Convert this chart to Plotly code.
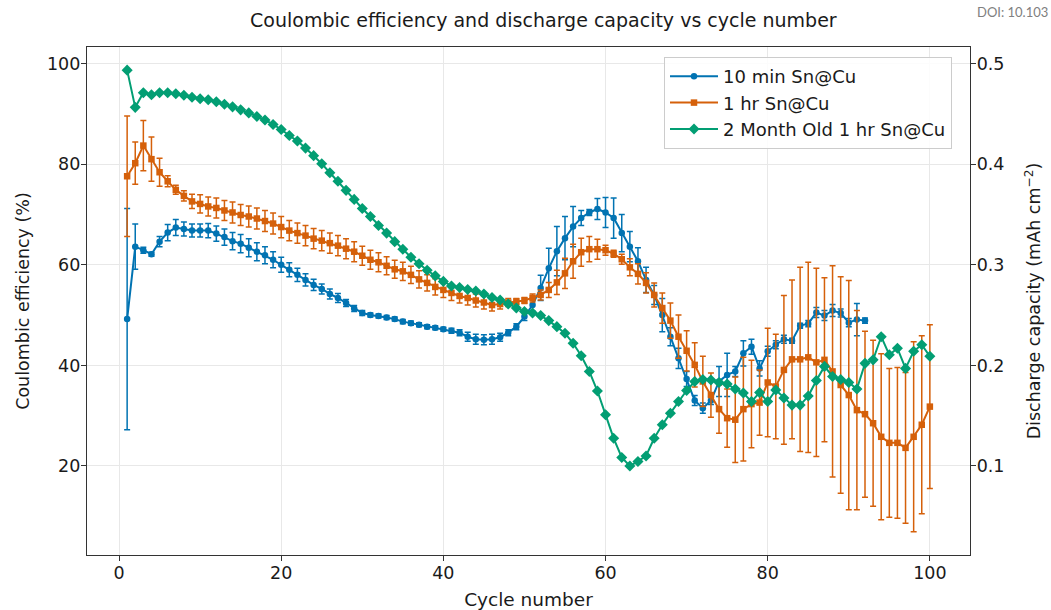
import plotly.graph_objects as go

cycles = list(range(1, 101))
cycles_blue = list(range(1, 93))

ce_10min = [49.2, 63.6, 62.9, 62.1, 64.6, 66.4, 67.4, 67.1, 66.8, 66.8,
            66.8, 66.2, 65.5, 64.7, 64.2, 63.4, 62.6, 61.9, 61.0, 60.0,
            59.0, 58.0, 57.0, 56.0, 55.2, 54.2, 53.4, 52.4, 51.3, 50.4,
            50.0, 49.8, 49.5, 49.2, 48.7, 48.4, 48.1, 47.7, 47.5, 47.2,
            46.9, 46.5, 45.7, 45.2, 45.1, 45.2, 45.6, 46.5, 47.7, 49.7,
            52.0, 55.4, 59.3, 62.7, 65.3, 67.6, 69.3, 70.4, 71.1, 70.4,
            69.3, 66.3, 63.6, 60.7, 57.0, 54.0, 50.0, 45.7, 41.4, 37.3,
            33.0, 31.5, 33.0, 36.8, 38.1, 38.8, 42.4, 43.7, 39.4, 42.8,
            44.1, 45.2, 44.9, 47.9, 48.3, 50.5, 49.9, 50.9, 50.4, 48.5,
            49.1, 48.9]
err_10min = [22.0, 4.5, 0.6, 0.4, 1.0, 1.6, 1.6, 1.4, 1.3, 1.3,
             1.4, 1.5, 1.6, 1.7, 1.8, 1.8, 1.8, 1.7, 1.6, 1.5,
             1.4, 1.3, 1.2, 1.1, 1.0, 1.0, 0.9, 0.7, 0.6, 0.5,
             0.4, 0.4, 0.4, 0.4, 0.4, 0.4, 0.4, 0.4, 0.4, 0.4,
             0.5, 0.6, 0.9, 1.0, 1.0, 1.0, 0.8, 0.6, 0.6, 0.8,
             1.2, 2.5, 4.0, 4.9, 4.3, 4.0, 1.5, 0.6, 2.1, 3.0,
             4.0, 3.7, 3.0, 2.7, 2.5, 1.9, 3.3, 1.8, 2.0, 1.5,
             1.0, 1.0, 0.8, 3.0, 4.3, 1.0, 2.5, 1.5, 1.5, 1.0,
             0.8, 0.8, 0.5, 0.5, 0.6, 1.0, 1.0, 1.2, 0.8, 0.8,
             3.2, 0.5]

ce_1hr = [77.6, 80.2, 83.7, 81.0, 78.4, 76.6, 74.9, 73.7, 72.6, 72.1,
          71.6, 71.3, 70.8, 70.4, 69.9, 69.6, 69.2, 68.7, 68.2, 67.5,
          66.8, 66.3, 65.8, 65.2, 64.8, 64.3, 63.8, 63.2, 62.6, 61.8,
          61.0, 60.5, 59.8, 59.1, 58.7, 58.0, 57.1, 56.4, 55.6, 55.0,
          54.4, 53.8, 53.4, 52.9, 52.5, 52.0, 52.2, 52.5, 52.7, 52.9,
          53.4, 54.0, 55.0, 56.5, 58.3, 60.7, 62.5, 63.1, 63.1, 62.9,
          62.2, 61.1, 59.5, 58.2, 56.4, 54.0, 51.4, 48.9, 45.7, 42.9,
          40.1, 36.8, 34.1, 31.3, 29.5, 29.2, 31.3, 32.3, 32.6, 36.6,
          35.8, 39.1, 41.2, 41.2, 41.6, 40.6, 41.1, 38.8, 36.1, 34.1,
          31.1, 30.3, 28.5, 25.8, 24.6, 24.6, 23.6, 25.8, 28.2, 31.8]
err_1hr = [12.0, 4.2, 5.0, 4.4, 2.8, 1.1, 0.9, 1.0, 1.4, 1.8,
           1.9, 2.0, 2.0, 2.1, 2.1, 2.1, 2.1, 2.1, 2.1, 2.1,
           2.0, 2.0, 2.0, 2.0, 2.0, 2.0, 2.0, 2.0, 2.0, 1.9,
           1.9, 1.9, 1.8, 1.8, 1.8, 1.7, 1.7, 1.6, 1.6, 1.5,
           1.5, 1.4, 1.4, 1.3, 1.3, 1.2, 1.0, 0.8, 0.6, 0.6,
           0.8, 1.0, 1.5, 2.4, 3.0, 3.4, 2.8, 2.5, 2.0, 1.0,
           0.7, 1.0, 1.7, 2.0, 2.0, 2.4, 3.0, 3.5, 4.3, 4.0,
           4.4, 5.0, 4.4, 4.8, 5.8, 8.5, 10.3, 8.7, 6.5, 10.8,
           10.4, 14.8, 15.8, 18.3, 18.9, 18.7, 16.3, 21.0, 21.5, 22.8,
           19.8, 16.5, 16.5, 16.5, 14.8, 15.0, 15.0, 18.9, 17.7, 16.3]

ce_2month = [98.7, 91.3, 94.2, 93.8, 94.2, 94.2, 94.0, 93.7, 93.3, 93.0,
             92.8, 92.4, 91.9, 91.4, 90.8, 90.2, 89.5, 88.8, 87.9, 86.9,
             85.7, 84.6, 83.2, 81.7, 80.1, 78.3, 76.6, 74.8, 73.0, 71.2,
             69.6, 67.8, 66.3, 64.6, 63.1, 61.5, 60.2, 58.9, 57.8, 56.7,
             55.8, 55.5, 55.1, 54.8, 54.2, 53.5, 53.0, 52.2, 51.4, 50.7,
             50.4, 49.9, 48.9, 47.7, 46.4, 44.4, 41.9, 38.8, 34.9, 30.2,
             25.5, 21.7, 20.0, 20.9, 22.0, 25.5, 28.2, 30.5, 32.8, 35.0,
             36.8, 37.2, 37.1, 36.6, 36.3, 35.3, 34.5, 32.8, 34.6, 32.8,
             35.1, 33.5, 32.1, 32.1, 33.9, 37.0, 39.8, 37.8, 37.2, 36.6,
             35.3, 40.4, 41.1, 45.7, 42.1, 43.4, 39.4, 42.8, 44.1, 41.8]
err_2month = [0.0] * 100

x_ticks = [0, 20, 40, 60, 80, 100]
y_ticks = [20, 40, 60, 80, 100]
y2_ticks = [0.1, 0.2, 0.3, 0.4, 0.5]

BLUE = "#0173B2"
ORANGE = "#D5600A"
GREEN = "#029E73"
FONT = "DejaVu Sans"
TXT = "#1a1a1a"

fig = go.Figure()

series = [
    ("10 min Sn@Cu", cycles_blue, ce_10min, err_10min, BLUE, "circle", 6.5),
    ("1 hr Sn@Cu", cycles, ce_1hr, err_1hr, ORANGE, "square", 6.5),
    ("2 Month Old 1 hr Sn@Cu", cycles, ce_2month, err_2month, GREEN, "diamond", 8.5),
]
for name, xs, ys, es, col, sym, ms in series:
    fig.add_trace(go.Scatter(
        x=xs, y=ys, name=name, mode="lines+markers",
        line=dict(color=col, width=2),
        marker=dict(color=col, symbol=sym, size=ms, line=dict(width=0)),
        error_y=dict(type="data", array=es, visible=True, color=col,
                     thickness=1.5, width=3),
    ))

# empty trace to activate the right-hand axis
fig.add_trace(go.Scatter(x=[None], y=[None], yaxis="y2", showlegend=False,
                         mode="markers", hoverinfo="skip"))

axis_common = dict(
    showline=True, linecolor="#333333", linewidth=1.3,
    ticks="outside", ticklen=5, tickwidth=1.2, tickcolor="#333333",
    tickfont=dict(family=FONT, size=17.5, color=TXT),
    ticklabelstandoff=-3,
    zeroline=False,
)

fig.update_layout(
    width=1051, height=610,
    margin=dict(l=87, r=81, t=47, b=55),
    paper_bgcolor="white", plot_bgcolor="white",
    font=dict(family=FONT, color=TXT),
    title=dict(text="Coulombic efficiency and discharge capacity vs cycle number",
               x=0.517, xref="container", xanchor="center",
               y=1 - 20 / 610, yref="container", yanchor="middle",
               font=dict(family=FONT, size=19, color=TXT)),
    xaxis=dict(range=[-3.95, 104.95], tickvals=x_ticks, mirror=True,
               showgrid=True, gridcolor="#e8e8e8", gridwidth=1, automargin=False,
               title=dict(text="Cycle number", standoff=14,
                          font=dict(family=FONT, size=18.5, color=TXT)),
               **axis_common),
    yaxis=dict(range=[2.3, 103.3], tickvals=y_ticks, mirror=True,
               showgrid=True, gridcolor="#e8e8e8", gridwidth=1, automargin=False,
               title=dict(text="Coulombic efficiency (%)", standoff=12,
                          font=dict(family=FONT, size=17.5, color=TXT)),
               **axis_common),
    yaxis2=dict(range=[2.3 / 200, 103.3 / 200], tickvals=y2_ticks,
                ticktext=[f"{v:.1f}" for v in y2_ticks],
                overlaying="y", side="right", showgrid=False, automargin=False,
                title=dict(text="Discharge capacity (mAh cm<sup>−2</sup>)", standoff=24,
                           font=dict(family=FONT, size=17.5, color=TXT)),
                **axis_common),
    legend=dict(x=(664 - 87) / 883, y=1 - (57 - 47) / 508,
                xanchor="left", yanchor="top",
                bgcolor="rgba(255,255,255,0.85)", bordercolor="#cccccc", borderwidth=1,
                font=dict(family=FONT, size=18, color=TXT),
                itemwidth=48, tracegroupgap=0),
    showlegend=True,
    annotations=[dict(text="DOI: 10.103", x=(1050 - 87) / 883, y=(555 - 12) / 508,
                      xref="paper", yref="paper",
                      showarrow=False, xanchor="right", yanchor="middle",
                      font=dict(family="Lato", size=13, color="#808080"))],
)

fig.write_html("out.html")
